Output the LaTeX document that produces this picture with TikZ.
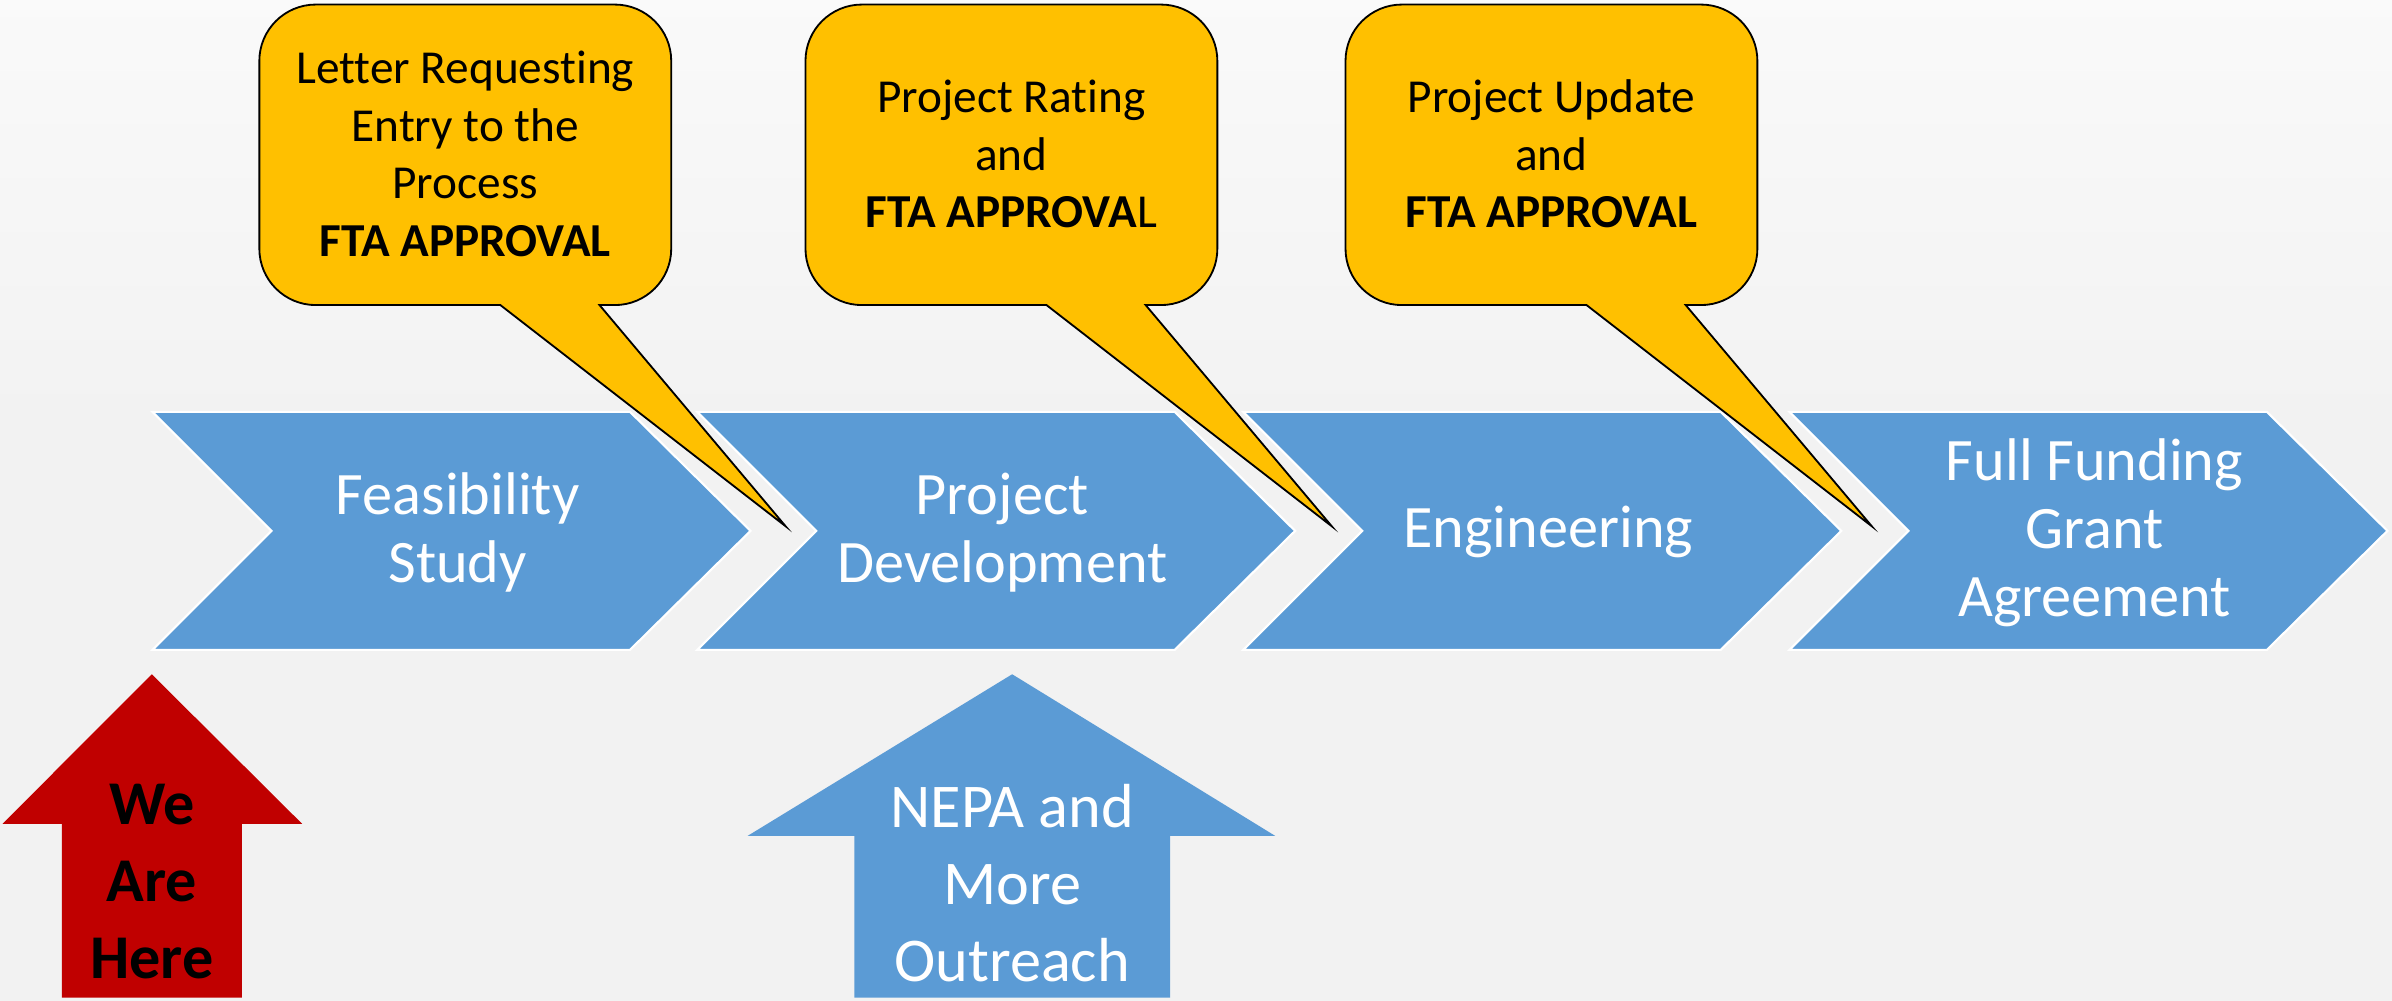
\documentclass[tikz,border=0pt]{standalone}
\usepackage{fontspec}
\setmainfont{Carlito}[Ligatures=NoCommon]
\definecolor{bg}{HTML}{F2F2F2}
\definecolor{chev}{HTML}{5B9BD5}
\definecolor{gold}{HTML}{FFC000}
\definecolor{redarrow}{HTML}{C00000}
\tikzset{
  chevshape/.style={fill=chev, draw=white, line width=0.7pt, line join=miter},
  chevtext/.style={text=white, align=center, inner sep=0pt, font=\fontsize{19.75}{22.25}\selectfont},
  bubble/.style={fill=gold, draw=black, line width=0.6pt, line join=miter},
  bubbletext/.style={text=black, align=center, inner sep=0pt, font=\fontsize{15.5}{18.9}\selectfont},
  heretext/.style={text=black, align=center, inner sep=0pt, font=\bfseries\fontsize{20.4}{25.15}\selectfont},
  nepatext/.style={text=white, align=center, inner sep=0pt, font=\fontsize{20.4}{25.15}\selectfont},
  bubbleshape/.pic={
    \path[bubble] (158,0) -- (345,-145) -- (223,0) -- (233,0)
      arc[start angle=-90,end angle=0,radius=37] -- (270,160)
      arc[start angle=0,end angle=90,radius=37] -- (37,197)
      arc[start angle=90,end angle=180,radius=37] -- (0,37)
      arc[start angle=180,end angle=270,radius=37] -- cycle;
  }
}
\begin{document}
\begin{tikzpicture}[x=0.5pt,y=0.5pt]
\useasboundingbox (0,0) rectangle (1568,656);
\fill[bg] (0,0) rectangle (1568,656);
\shade[top color=white!60!bg, bottom color=bg] (0,380) rectangle (1568,656);

% chevrons
\foreach \L in {100,457,815,1173}{
  \path[chevshape] (\L,386) -- ++(313,0) -- ++(79,-78) -- ++(-79,-78) -- ++(-313,0) -- ++(78,78) -- cycle;
}
\node[chevtext] (feas) at (300,307) {Feasibility\\Study};
\node[chevtext] (pdev) at (657,307) {Project\\Development};
\node[chevtext] (eng) at (1015,307) {Engineering};
\node[chevtext] (ffga) at (1373,307) {Full Funding\\Grant\\Agreement};

% callouts
\pic at (170,456) {bubbleshape};
\pic at (528,456) {bubbleshape};
\pic at (882,456) {bubbleshape};
\node[bubbletext] (c1) at (305,555) {Letter Requesting\\Entry to the\\Process\\\textbf{FTA APPROVAL}};
\node[bubbletext] (c2) at (663,555) {Project Rating\\and\\\textbf{FTA APPROVA}L};
\node[bubbletext] (c3) at (1017,555) {Project Update\\and\\\textbf{FTA APPROVAL}};

% bottom arrows
\fill[redarrow] (99.5,214) -- (198,116) -- (158.5,116) -- (158.5,2) -- (40.6,2) -- (40.6,116) -- (1.7,116) -- cycle;
\node[heretext] (here) at (99.5,78) {We\\Are\\Here};
\fill[chev] (663.5,214) -- (836,108) -- (767,108) -- (767,2) -- (560,2) -- (560,108) -- (490,108) -- cycle;
\node[nepatext] (nepa) at (663.5,77) {NEPA and\\More\\Outreach};
\end{tikzpicture}
\end{document}
